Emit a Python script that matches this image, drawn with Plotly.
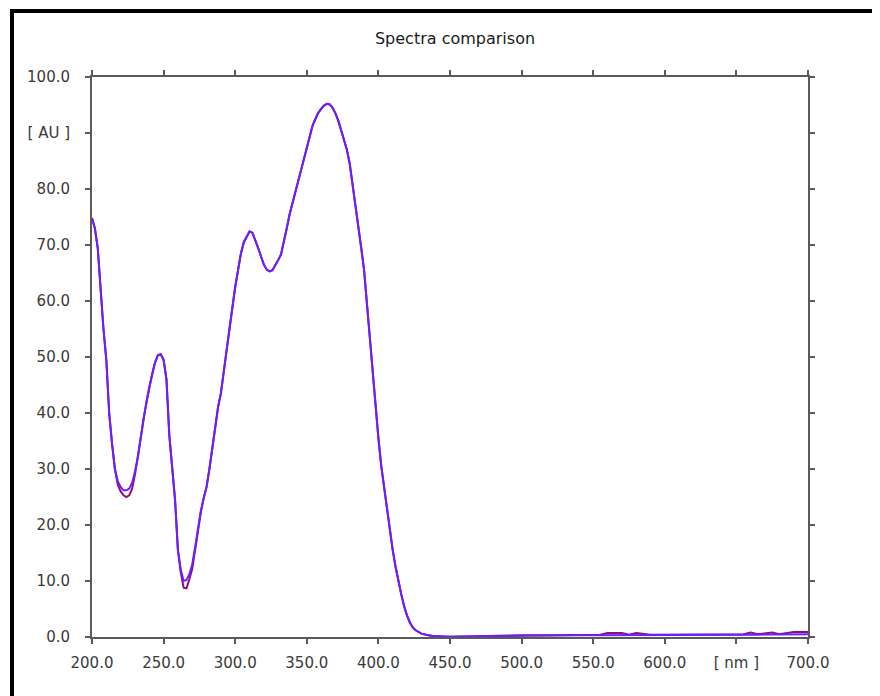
import plotly.graph_objects as go

wavelength_nm = [
    200, 202, 204, 206, 208, 210, 212, 214, 216, 218, 220, 222, 224, 226, 228, 230,
    232, 234, 236, 238, 240, 242, 244, 246, 248, 250, 252, 254, 256, 258, 260, 262,
    264, 266, 268, 270, 272, 274, 276, 278, 280, 282, 284, 286, 288, 290, 292, 294,
    296, 298, 300, 302, 304, 306, 308, 310, 312, 314, 316, 318, 320, 322, 324, 326,
    328, 330, 332, 334, 336, 338, 340, 342, 344, 346, 348, 350, 352, 354, 356, 358,
    360, 362, 364, 366, 368, 370, 372, 374, 376, 378, 380, 382, 384, 386, 388, 390,
    392, 394, 396, 398, 400, 402, 404, 406, 408, 410, 412, 414, 416, 418, 420, 422,
    424, 426, 428, 430, 434, 438, 445, 450, 460, 480, 500, 520, 540, 555, 560, 570,
    575, 580, 590, 600, 620, 640, 655, 660, 665, 675, 680, 690, 700,
]

spectrum_blue = [
    74.8, 73.0, 69.5, 62.0, 55.0, 49.5, 40.0, 34.5, 30.0, 27.8, 26.8, 26.2, 26.2, 26.5, 27.5, 29.5,
    32.0, 35.5, 39.0, 42.0, 44.5, 47.0, 49.0, 50.3, 50.5, 49.5, 46.0, 36.0, 30.0, 24.5, 15.5, 12.0,
    10.0, 10.2, 11.2, 13.0, 16.0, 19.5, 22.5, 24.8, 26.8, 30.0, 34.0, 37.0, 41.0, 43.5, 47.0, 51.2,
    55.0, 59.0, 62.5, 65.5, 68.5, 70.5, 71.6, 72.4, 72.2, 71.0, 69.5, 68.0, 66.5, 65.6, 65.3, 65.5,
    66.3, 67.3, 68.3, 70.5, 73.0, 75.5, 77.5, 79.5, 81.5, 83.8, 85.8, 87.8, 89.8, 91.3, 92.5, 93.6,
    94.3, 94.9, 95.2, 95.1, 94.5, 93.5, 92.2, 90.6, 88.8, 87.0, 84.5, 80.8, 77.0, 73.9, 69.5, 65.5,
    59.5, 53.0, 46.5, 41.0, 35.5, 30.5, 26.5, 22.5, 18.5, 15.5, 12.5, 9.8, 7.6, 5.5, 3.8, 2.6,
    1.7, 1.2, 0.9, 0.6, 0.35, 0.2, 0.1, 0.05, 0.1, 0.2, 0.25, 0.28, 0.3, 0.3, 0.3, 0.32,
    0.33, 0.33, 0.35, 0.35, 0.37, 0.4, 0.4, 0.4, 0.42, 0.45, 0.45, 0.48, 0.5,
]

spectrum_purple = [
    74.8, 73.0, 69.5, 62.0, 55.0, 49.5, 40.0, 34.5, 30.0, 27.2, 26.0, 25.3, 25.0, 25.3, 26.5, 29.0,
    32.0, 35.5, 39.0, 42.0, 44.5, 47.0, 49.0, 50.3, 50.5, 49.5, 46.0, 36.0, 30.0, 24.5, 15.5, 11.5,
    8.8, 8.7, 10.3, 12.2, 15.5, 19.2, 22.3, 24.8, 26.8, 30.0, 34.0, 37.0, 41.0, 43.5, 47.0, 51.2,
    55.0, 59.0, 62.5, 65.5, 68.5, 70.5, 71.6, 72.4, 72.2, 71.0, 69.5, 68.0, 66.5, 65.6, 65.3, 65.5,
    66.3, 67.3, 68.3, 70.5, 73.0, 75.5, 77.5, 79.5, 81.5, 83.8, 85.8, 87.8, 89.8, 91.3, 92.5, 93.6,
    94.3, 94.9, 95.2, 95.1, 94.5, 93.5, 92.2, 90.6, 88.8, 87.0, 84.5, 80.8, 77.0, 73.9, 69.5, 65.5,
    59.5, 53.0, 46.5, 41.0, 35.5, 30.5, 26.5, 22.5, 18.5, 15.5, 12.5, 9.8, 7.6, 5.5, 3.8, 2.6,
    1.7, 1.2, 0.9, 0.6, 0.35, 0.2, 0.1, 0.05, 0.1, 0.25, 0.3, 0.32, 0.35, 0.4, 0.7, 0.7,
    0.4, 0.7, 0.4, 0.4, 0.4, 0.45, 0.5, 0.8, 0.5, 0.8, 0.5, 0.9, 0.9,
]

x_tick_vals = [200, 250, 300, 350, 400, 450, 500, 550, 600, 650, 700]
x_tick_text = ["200.0", "250.0", "300.0", "350.0", "400.0", "450.0", "500.0",
               "550.0", "600.0", "[ nm ]", "700.0"]
y_tick_vals = [0, 10, 20, 30, 40, 50, 60, 70, 80, 90, 100]
y_tick_text = ["0.0", "10.0", "20.0", "30.0", "40.0", "50.0", "60.0",
               "70.0", "80.0", "[ AU ]", "100.0"]

chart_title = "Spectra comparison"

# page body adds an 8px offset; compensate so that the screenshot matches
OFF = 8
W, H = 880, 696
L, R, T, B = 92 - OFF, 808 - OFF, 77 - OFF, 637 - OFF

def px(xp):
    return (xp - OFF - L) / (R - L)

def py(yp):
    return (B - (yp - OFF)) / (B - T)

FONT = "DejaVu Sans, Verdana, sans-serif"

fig = go.Figure()
fig.add_trace(go.Scatter(x=wavelength_nm, y=spectrum_purple, mode="lines",
                         line=dict(color="#8f0d7a", width=2), showlegend=False))
fig.add_trace(go.Scatter(x=wavelength_nm, y=spectrum_blue, mode="lines",
                         line=dict(color="#6a1fff", width=2), showlegend=False))

axis_common = dict(
    showgrid=False, zeroline=False, showline=True, linecolor="#5a5a5a", linewidth=2,
    ticks="outside", ticklen=5, tickwidth=1.5, tickcolor="#5a5a5a",
    tickfont=dict(family=FONT, size=15, color="#3a3a3a"),
)

fig.update_layout(
    width=W, height=H,
    margin=dict(l=L, r=W - R, t=T, b=H - B),
    paper_bgcolor="white", plot_bgcolor="white",
    title=dict(text=chart_title, x=(455 - OFF) / W, xanchor="center",
               y=1 - (38 - OFF) / H, yanchor="middle",
               font=dict(family=FONT, size=16, color="#1a1a1a")),
    xaxis=dict(range=[200, 700], tickvals=x_tick_vals, ticktext=x_tick_text,
               mirror="ticks", ticklabelstandoff=6, **axis_common),
    yaxis=dict(range=[0, 100], tickvals=y_tick_vals, ticktext=y_tick_text,
               mirror="ticks", ticklabelstandoff=12, **axis_common),
    yaxis2=dict(range=[0, 100], tickvals=y_tick_vals, ticktext=y_tick_text,
                overlaying="y", side="right", ticklabelstandoff=14, **axis_common),
    shapes=[
        dict(type="rect", xref="paper", yref="paper", x0=px(10), x1=px(14),
             y0=py(700), y1=py(9), fillcolor="black", line=dict(width=0), layer="above"),
        dict(type="rect", xref="paper", yref="paper", x0=px(10), x1=px(885),
             y0=py(13), y1=py(9), fillcolor="black", line=dict(width=0), layer="above"),
    ],
)

fig.write_html("out.html")
